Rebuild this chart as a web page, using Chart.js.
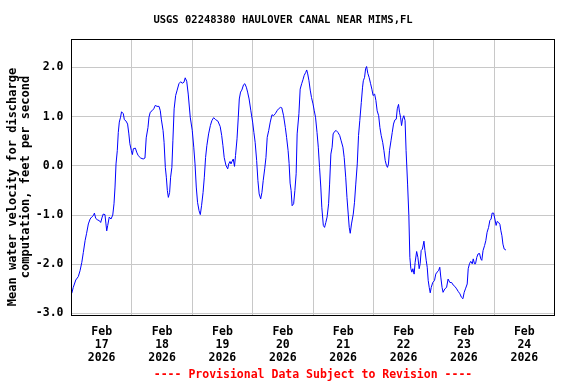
<!DOCTYPE html>
<html>
<head>
<meta charset="utf-8">
<script src="https://cdn.jsdelivr.net/npm/chart.js@4"></script>
<style>
  html, body { margin: 0; padding: 0; background: #ffffff; }
  #wrap { width: 576px; height: 384px; position: relative; }
</style>
</head>
<body>
<div id="wrap"><canvas id="c" width="576" height="384"></canvas></div>
<script>
// ---- Data (hours since 2026-02-17 00:00 local) ----
const chartTitle = 'USGS 02248380 HAULOVER CANAL NEAR MIMS,FL';
const yTitleLines = ['Mean water velocity for discharge', 'computation, feet per second'];
const footerText = '---- Provisional Data Subject to Revision ----';
const monthLabel = 'Feb';
const yearLabel = '2026';
const dayLabels = ['17', '18', '19', '20', '21', '22', '23', '24'];
const yTickValues = [-3, -2, -1, 0, 1, 2];

const hours = [
  0.1,0.7,1.7,2.7,3.4,4.1,4.7,5.4,6.0,6.7,7.4,8.0,8.7,9.1,9.6,10.3,11.0,11.6,12.2,12.6,13.3,13.7,14.0,14.4,15.0,15.7,16.4,16.9,17.3,17.7,18.2,18.6,19.0,19.5,19.9,20.6,21.0,21.7,22.3,22.8,23.2,23.8,
  24.2,24.6,25.4,25.9,26.5,27.5,28.5,29.2,29.7,30.4,30.8,31.3,32.0,32.7,33.3,34.0,34.8,35.3,35.7,36.4,36.8,37.3,37.7,38.1,38.5,39.0,39.4,39.9,40.3,40.8,41.4,42.0,42.7,43.4,44.0,44.7,45.2,45.8,46.4,47.2,
  48.0,48.6,49.1,49.6,50.1,50.7,51.2,51.7,52.3,52.8,53.3,53.8,54.5,55.2,55.8,56.5,57.3,58.2,59.1,59.7,60.2,60.7,61.4,62.1,62.5,63.0,63.4,63.8,64.3,64.8,65.2,65.8,66.3,66.7,67.2,67.7,68.4,68.9,69.5,70.0,70.6,71.3,
  72.0,72.5,73.0,73.6,74.1,74.6,75.2,75.7,76.2,76.8,77.3,77.8,78.4,79.0,79.7,80.3,81.0,81.7,82.3,83.1,83.6,84.3,85.0,85.5,86.1,86.5,86.9,87.3,87.7,88.3,88.8,89.3,89.7,90.4,90.9,91.5,92.0,92.5,93.1,93.5,93.9,94.4,94.9,95.4,
  96.0,96.5,97.0,97.6,98.1,98.6,99.1,99.5,100.1,100.6,101.1,101.6,102.2,102.6,103.1,103.6,104.0,104.6,105.2,105.9,106.6,107.2,107.9,108.4,109.0,109.5,110.0,110.4,110.8,111.3,112.0,112.5,113.0,113.6,114.1,114.6,115.2,115.7,116.0,116.5,116.9,117.3,117.8,118.3,118.9,119.4,119.9,
  120.5,121.0,121.5,122.1,122.6,123.1,123.7,124.2,124.7,125.2,125.6,126.0,126.4,127.0,127.5,128.0,128.5,129.1,129.5,130.0,130.4,130.8,131.2,131.6,132.1,132.6,133.0,133.6,134.1,134.5,134.9,135.3,135.7,136.2,136.6,137.2,137.7,138.2,138.6,139.0,139.5,140.1,140.5,141.0,141.4,141.8,142.2,142.6,143.0,143.6,
  144.3,144.8,145.3,145.9,146.4,146.8,147.3,147.7,148.4,149.1,149.7,150.4,151.1,151.7,152.4,153.1,153.7,154.4,155.0,155.6,156.1,156.6,157.3,157.7,158.2,158.7,159.3,159.7,160.2,160.6,161.1,161.6,162.2,162.7,163.1,163.6,164.2,164.7,165.2,165.8,166.3,166.8,167.2,167.8,168.3,168.8,169.2,169.8,170.3,170.7,171.1,171.5,172.0,172.7
];

const velocity = [
  -2.59,-2.47,-2.32,-2.25,-2.13,-1.96,-1.76,-1.52,-1.37,-1.18,-1.08,-1.04,-1.01,-0.96,-1.06,-1.10,-1.11,-1.15,-1.04,-0.98,-0.99,-1.18,-1.32,-1.21,-1.04,-1.08,-1.00,-0.77,-0.43,0.04,0.31,0.68,0.89,0.99,1.10,1.06,0.94,0.91,0.85,0.65,0.45,0.31,
  0.23,0.35,0.36,0.28,0.21,0.16,0.14,0.16,0.57,0.78,0.99,1.09,1.12,1.16,1.23,1.21,1.21,1.12,0.95,0.72,0.48,-0.03,-0.23,-0.50,-0.64,-0.54,-0.23,-0.03,0.51,1.16,1.43,1.54,1.67,1.71,1.68,1.70,1.79,1.72,1.46,0.99,
  0.72,0.38,0.04,-0.43,-0.74,-0.91,-0.99,-0.81,-0.54,-0.23,0.17,0.41,0.65,0.82,0.92,0.98,0.94,0.91,0.80,0.62,0.41,0.17,0.01,-0.06,0.04,0.09,0.04,0.09,0.14,-0.01,0.21,0.55,0.99,1.36,1.50,1.54,1.65,1.67,1.60,1.50,1.36,1.12,
  0.89,0.68,0.48,0.11,-0.30,-0.57,-0.67,-0.54,-0.30,-0.06,0.17,0.58,0.72,0.89,1.04,1.02,1.06,1.12,1.16,1.19,1.18,1.02,0.78,0.58,0.31,0.05,-0.35,-0.50,-0.81,-0.77,-0.50,-0.16,0.65,1.06,1.56,1.67,1.75,1.84,1.90,1.95,1.87,1.73,1.54,1.39,
  1.26,1.12,0.99,0.68,0.38,-0.03,-0.43,-0.84,-1.21,-1.25,-1.15,-1.04,-0.77,-0.37,0.24,0.38,0.65,0.70,0.72,0.68,0.62,0.51,0.38,0.17,-0.23,-0.64,-0.98,-1.25,-1.37,-1.18,-0.98,-0.74,-0.37,0.04,0.62,0.92,1.29,1.60,1.73,1.80,1.97,2.02,1.88,1.80,1.67,1.56,1.43,
  1.46,1.33,1.12,1.02,0.78,0.62,0.48,0.31,0.11,0.01,-0.03,0.04,0.31,0.51,0.68,0.85,0.93,0.95,1.16,1.25,1.09,0.99,0.82,0.95,1.02,0.92,0.31,-0.37,-1.01,-1.86,-2.09,-2.16,-2.09,-2.20,-1.96,-1.74,-1.86,-2.09,-1.99,-1.72,-1.69,-1.53,-1.72,-1.92,-2.06,-2.33,-2.47,-2.58,-2.47,-2.37,
  -2.33,-2.20,-2.16,-2.13,-2.06,-2.26,-2.47,-2.57,-2.50,-2.47,-2.30,-2.37,-2.37,-2.42,-2.45,-2.50,-2.55,-2.60,-2.67,-2.70,-2.57,-2.50,-2.40,-2.09,-1.99,-1.94,-1.99,-1.89,-1.99,-1.99,-1.86,-1.79,-1.78,-1.89,-1.92,-1.72,-1.62,-1.52,-1.35,-1.25,-1.11,-1.08,-0.96,-0.96,-1.08,-1.21,-1.13,-1.15,-1.19,-1.32,-1.42,-1.59,-1.69,-1.71
];

const points = hours.map((h, i) => ({ x: h, y: velocity[i] }));

const MONO = '"DejaVu Sans Mono", "Liberation Mono", monospace';

const decorPlugin = {
  id: 'decor',
  afterDraw(chart) {
    const ctx = chart.ctx;
    const a = chart.chartArea;
    ctx.save();
    // plot frame
    ctx.strokeStyle = '#000000';
    ctx.lineWidth = 1;
    ctx.strokeRect(Math.floor(a.left) + 0.5, Math.floor(a.top) + 0.5,
                   Math.floor(a.right) - Math.floor(a.left), Math.floor(a.bottom) - Math.floor(a.top));
    // title
    ctx.fillStyle = '#000000';
    ctx.textAlign = 'center';
    ctx.textBaseline = 'middle';
    ctx.font = 'bold 10.5px ' + MONO;
    ctx.fillText(chartTitle, 283, 20);
    // y axis title (two rotated lines)
    ctx.font = 'bold 12px ' + MONO;
    const yt = [[12.5, 187], [25.5, 177]];
    yTitleLines.forEach((line, i) => {
      ctx.save();
      ctx.translate(yt[i][0], yt[i][1]);
      ctx.rotate(-Math.PI / 2);
      ctx.fillText(line, 0, 0);
      ctx.restore();
    });
    // footer
    ctx.fillStyle = '#ff0000';
    ctx.font = 'bold 11.5px ' + MONO;
    ctx.fillText(footerText, (a.left + a.right) / 2, 375.5);
    ctx.restore();
  }
};

new Chart(document.getElementById('c'), {
  type: 'line',
  data: {
    datasets: [{
      data: points,
      borderColor: '#0000ff',
      borderWidth: 1,
      pointRadius: 0,
      tension: 0,
      fill: false
    }]
  },
  options: {
    responsive: false,
    animation: false,
    devicePixelRatio: 1,
    parsing: true,
    layout: { padding: { left: 0, top: 39.5, right: 21.5, bottom: 0 } },
    plugins: {
      legend: { display: false },
      title: { display: false },
      tooltip: { enabled: false }
    },
    scales: {
      x: {
        type: 'linear',
        min: 0,
        max: 192,
        afterFit(scale) { scale.height = 384 - 315.5; },
        afterBuildTicks(scale) {
          const t = [];
          for (let v = 0; v <= 192; v += 12) t.push({ value: v });
          scale.ticks = t;
        },
        border: { display: false },
        grid: {
          drawTicks: false,
          lineWidth: 1,
          color(ctx) {
            const v = ctx.tick ? ctx.tick.value : 0;
            return (v % 24 === 0 && v > 0 && v < 192) ? '#c8c8c8' : 'rgba(0,0,0,0)';
          }
        },
        ticks: {
          autoSkip: false,
          maxRotation: 0,
          minRotation: 0,
          padding: 10,
          color: '#000000',
          font: { family: MONO, size: 11.5, weight: 'bold', lineHeight: 1.12 },
          callback(value) {
            if (value % 24 === 12) {
              const d = (value - 12) / 24;
              return [monthLabel, dayLabels[d], yearLabel];
            }
            return '';
          }
        }
      },
      y: {
        type: 'linear',
        min: -3.041,
        max: 2.569,
        afterFit(scale) { scale.width = 71.5; },
        afterBuildTicks(scale) {
          scale.ticks = yTickValues.map(v => ({ value: v }));
        },
        border: { display: false },
        grid: { drawTicks: false, color: '#c8c8c8', lineWidth: 1 },
        ticks: {
          padding: 8,
          color: '#000000',
          font: { family: MONO, size: 11.5, weight: 'bold' },
          callback(value) { return value.toFixed(1); }
        }
      }
    }
  },
  plugins: [decorPlugin]
});
</script>
</body>
</html>
